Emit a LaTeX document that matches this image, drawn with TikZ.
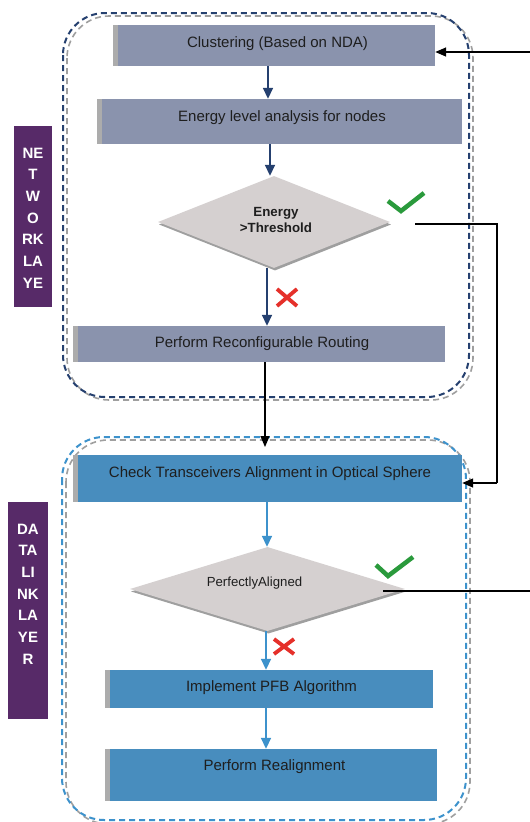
\documentclass[tikz,border=0pt]{standalone}
\usepackage{fontspec}
\setmainfont{Liberation Sans}
\usetikzlibrary{arrows.meta,shapes.geometric,shadows}
\definecolor{netfill}{HTML}{8A93AD}
\definecolor{navy}{HTML}{25406F}
\definecolor{dlfill}{HTML}{488DBE}
\definecolor{dlblue}{HTML}{3D92CC}
\definecolor{diafill}{HTML}{D5D0D0}
\definecolor{purp}{HTML}{572A68}
\definecolor{okgreen}{HTML}{2A9A3C}
\definecolor{nored}{HTML}{E5302A}
\definecolor{txtc}{HTML}{1E1E1E}
\tikzset{
  strip/.style={path picture={\fill[gray!65] (path picture bounding box.north west) rectangle ([xshift=5pt]path picture bounding box.south west);}},
  netbox/.style={rectangle, fill=netfill, inner sep=0pt, strip},
  dlbox/.style={rectangle, fill=dlfill, inner sep=0pt, strip},
  boxtxt/.style={inner sep=0pt, text=txtc, font=\fontsize{15}{18}\selectfont},
  dia/.style={diamond, aspect=2.5, inner sep=0pt, fill=diafill,
     drop shadow={shadow xshift=1pt, shadow yshift=-2.5pt, fill=gray!75, opacity=1}},
  diatxt/.style={inner sep=0pt, text=txtc, align=center},
  netarrow/.style={draw=navy, line width=1.7pt, -{Triangle[length=11pt,width=10pt]}},
  dlarrow/.style={draw=dlblue, line width=1.7pt, -{Triangle[length=11pt,width=10pt]}},
  blkarrow/.style={draw=black, line width=1.4pt, -{Triangle[length=11pt,width=9pt]}},
  blkline/.style={draw=black, line width=1.4pt},
  sidebox/.style={rectangle, fill=purp, inner sep=0pt},
  sidetxt/.style={inner sep=0pt, text=white, align=center, font=\fontsize{15}{21.7}\selectfont\bfseries},
  okmark/.style={draw=okgreen, line width=4.5pt},
  nomark/.style={draw=nored, line width=3.8pt},
  contshadow/.style={draw=gray!75, line width=1.6pt, dash pattern=on 6pt off 4pt, rounded corners=42pt},
}
\begin{document}
\begin{tikzpicture}[x=1pt,y=-1pt]
\useasboundingbox[fill=white] (0,0) rectangle (530,822);

% containers
\draw[contshadow] (67,16) rectangle (473,400);
\draw[draw=navy, line width=2pt, dash pattern=on 6pt off 4pt, rounded corners=42pt] (63,13) rectangle (469,397);
\draw[contshadow] (66,440) rectangle (470,824);
\draw[draw=dlblue, line width=2pt, dash pattern=on 6pt off 4pt, rounded corners=42pt] (62,437) rectangle (466,820);

% side labels
\node[sidebox, minimum width=38pt, minimum height=181pt] (netlbl) at (33,216.5) {};
\node[sidetxt] (netlbltxt) at (33,218) {NE\\T\\W\\O\\RK\\LA\\YE};
\node[sidebox, minimum width=40pt, minimum height=217pt] (dllbl) at (28,610.5) {};
\node[sidetxt] (dllbltxt) at (28,594) {DA\\TA\\LI\\NK\\LA\\YE\\R};

% network layer boxes
\node[netbox, minimum width=322pt, minimum height=41pt] (clu) at (274,45.5) {};
\node[boxtxt] (clutxt) at (277.5,44) {Clustering (Based on NDA)};
\node[netbox, minimum width=365pt, minimum height=45pt] (ene) at (279.5,121.5) {};
\node[boxtxt] (enetxt) at (282,118) {Energy level analysis for nodes};
\node[dia, minimum width=232pt, minimum height=92pt] (d1) at (274,222) {};
\node[diatxt, font=\fontsize{13.3}{16}\selectfont\bfseries] (d1txt) at (276,220) {Energy\\>Threshold};
\node[netbox, minimum width=372pt, minimum height=36pt] (rou) at (259,344) {};
\node[boxtxt] (routxt) at (262,344) {Perform Reconfigurable Routing};

% data link boxes
\node[dlbox, minimum width=389pt, minimum height=47pt] (chk) at (267.5,478.5) {};
\node[boxtxt] (chktxt) at (270,474) {Check Transceivers Alignment in Optical Sphere};
\node[dia, minimum width=275pt, minimum height=84pt] (d2) at (267.5,589) {};
\node[diatxt, font=\fontsize{13.2}{16}\selectfont] (d2txt) at (254.5,583.5) {PerfectlyAligned};
\node[dlbox, minimum width=328pt, minimum height=38pt] (pfb) at (269,689) {};
\node[boxtxt] (pfbtxt) at (271.5,688) {Implement PFB Algorithm};
\node[dlbox, minimum width=332pt, minimum height=52pt] (rea) at (271,775) {};
\node[boxtxt] (reatxt) at (274.5,767) {Perform Realignment};

% arrow axes
\coordinate (a1) at (268,0);
\coordinate (a2) at (270,0);
\coordinate (a3) at (267,0);
\coordinate (a4) at (266,0);
\coordinate (a5) at (265,0);
\coordinate (dltop) at (265,447);
\coordinate (r1s) at (415,224);
\coordinate (r1c) at (497,224);
\coordinate (r1d) at (497,483);
\coordinate (r2s) at (383,591);
\coordinate (r2e) at (530,591);
\coordinate (r3s) at (530,52);

% arrows
\draw[netarrow] (clu.south -| a1) -- (ene.north -| a1);
\draw[netarrow] (ene.south -| a2) -- (d1.north -| a2);
\draw[netarrow] (d1.south -| a3) -- (rou.north -| a3);
\draw[blkarrow] (rou.south -| a5) -- (dltop);
\draw[dlarrow] (chk.south -| a3) -- (d2.north -| a3);
\draw[dlarrow] (d2.south -| a4) -- (pfb.north -| a4);
\draw[dlarrow] (pfb.south -| a4) -- (rea.north -| a4);
\draw[blkline] (r1s) -- (r1c) -- (r1d);
\draw[blkarrow] (r1d) -- (r1d -| chk.east);
\draw[blkline] (r2s) -- (r2e);
\draw[blkarrow] (r3s) -- (r3s -| clu.east);

% marks
\draw[okmark] (388,201) -- (401,211) -- (424,193);
\draw[nomark] (277,289) -- (297,306) (297,289) -- (277,306);
\draw[okmark] (376,565) -- (388,576) -- (413,557);
\draw[nomark] (274,639) -- (294,654) (294,639) -- (274,654);
\end{tikzpicture}
\end{document}
